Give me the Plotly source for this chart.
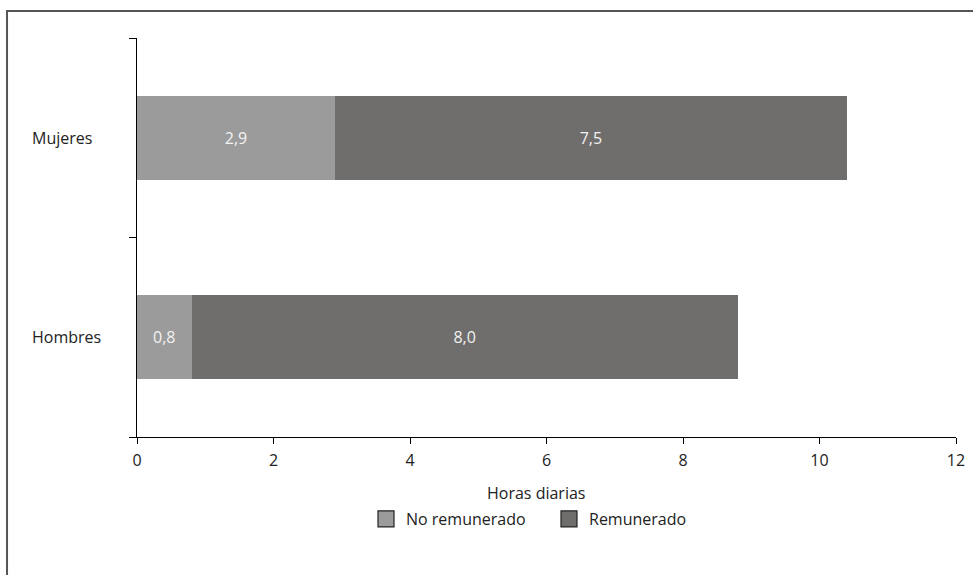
import plotly.graph_objects as go

categories = ["Hombres", "Mujeres"]
no_remunerado = [0.8, 2.9]
remunerado = [8.0, 7.5]
x_ticks = [0, 2, 4, 6, 8, 10, 12]
series_names = ["No remunerado", "Remunerado"]
colors = ["#9b9b9b", "#6f6e6c"]

FONT = "Open Sans"
FS = 16

fig = go.Figure()
for name, vals, col in zip(series_names, [no_remunerado, remunerado], colors):
    fig.add_trace(go.Bar(
        y=categories, x=vals, orientation="h", name=name,
        marker=dict(color=col, line=dict(width=0)),
        text=vals, texttemplate="%{x:.1f}", textposition="inside",
        insidetextanchor="middle",
        textfont=dict(color="#f2f2f2", size=FS, family=FONT),
        showlegend=False, hoverinfo="x+name",
    ))
# legend entries (outlined squares), each in its own legend box
for name, col, lg in zip(series_names, colors, ["legend", "legend2"]):
    fig.add_trace(go.Scatter(
        y=[None], x=[None], mode="markers", name=name,
        marker=dict(color=col, symbol="square", size=18,
                    line=dict(width=1.2, color="#222222")),
        showlegend=True, legend=lg,
    ))

def legend_at(px_left):
    return dict(orientation="h", x=(px_left - 137) / 819, xanchor="left",
                y=(437 - 519) / 399, yanchor="middle",
                font=dict(size=FS, family=FONT), itemwidth=30,
                bgcolor="rgba(0,0,0,0)")

fig.update_layout(
    width=973, height=575,
    barmode="stack", bargap=0.58,
    separators=",.",
    paper_bgcolor="white", plot_bgcolor="white",
    margin=dict(l=137, r=17, t=38, b=138, autoexpand=False),
    font=dict(family=FONT, size=FS, color="#222222"),
    legend=legend_at(366),
    legend2=legend_at(549),
    xaxis=dict(range=[0, 12], tickvals=x_ticks, ticks="outside", ticklen=6,
               tickcolor="black", showline=True, linecolor="black", linewidth=1,
               showgrid=False, zeroline=False, tickfont=dict(size=FS, family=FONT),
               ticklabelstandoff=3),
    yaxis=dict(range=[-0.5, 1.5], categoryorder="array", categoryarray=categories,
               tickson="boundaries", ticks="outside", ticklen=7, tickcolor="black",
               showline=True, linecolor="black", linewidth=1, showgrid=False,
               showticklabels=False, zeroline=False),
    annotations=[
        dict(text="Horas diarias", x=(536 - 137) / 819, y=-0.1404, xref="paper", yref="paper",
             showarrow=False, xanchor="center", yanchor="middle",
             font=dict(size=FS, family=FONT)),
    ] + [
        dict(text=c, x=-0.1307, y=c, xref="paper", yref="y", showarrow=False,
             xanchor="left", yanchor="middle", font=dict(size=FS, family=FONT))
        for c in categories
    ],
    shapes=[dict(type="rect", xref="paper", yref="paper",
                 x0=-0.1587, y0=-1, x1=2, y1=1.0677,
                 line=dict(color="#555555", width=2), layer="below")],
)

fig.write_html("out.html", config={"displayModeBar": False},
               post_script="document.body.style.margin='0';document.body.style.padding='0';")
